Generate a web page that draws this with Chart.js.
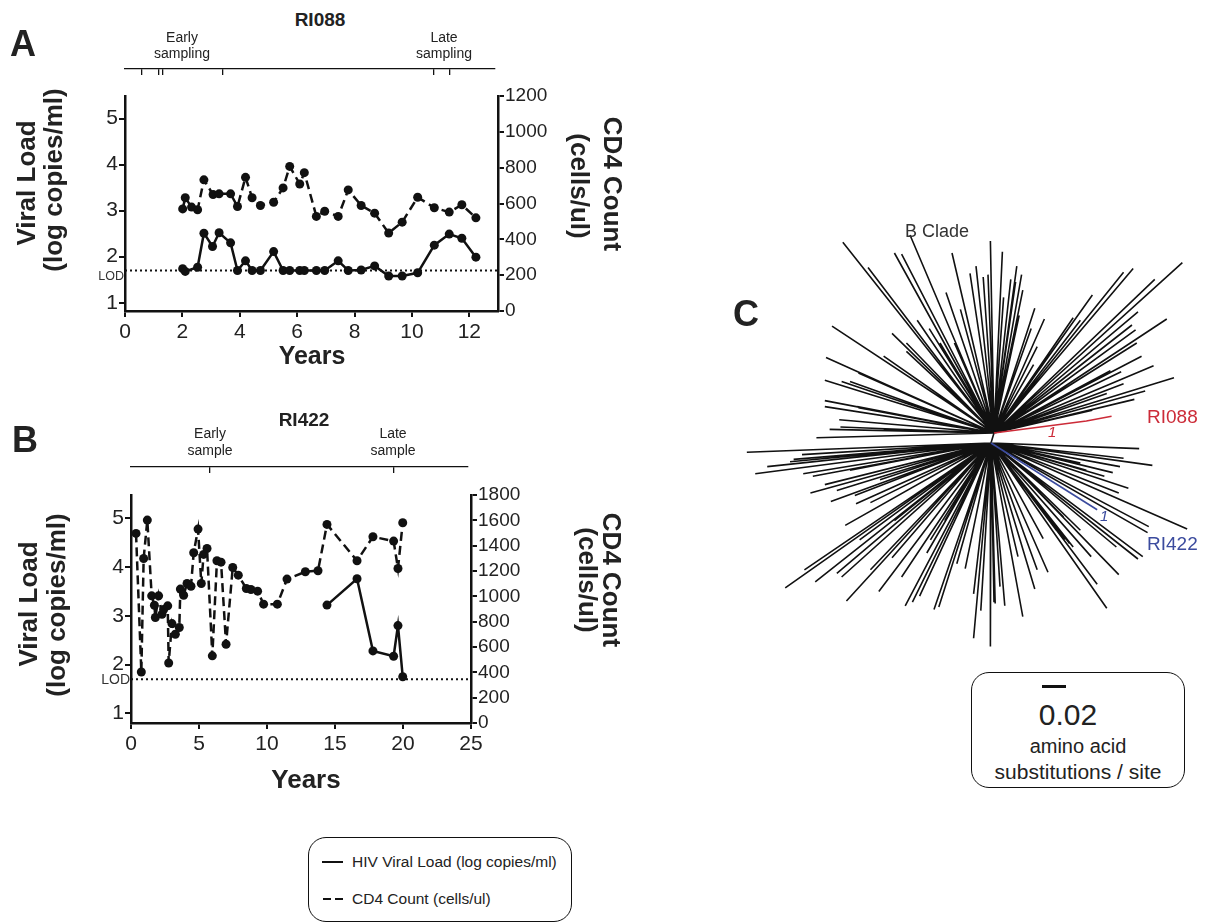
<!DOCTYPE html>
<html>
<head>
<meta charset="utf-8">
<title>RI088 / RI422 viral load, CD4 and tree</title>
<script src="https://cdn.jsdelivr.net/npm/chart.js@4.4.1/dist/chart.umd.min.js"></script>
<style>
  body { margin: 0; width: 1206px; height: 924px; background: #fff; position: relative; overflow: hidden;
         font-family: "Liberation Sans", Arial, sans-serif; color: #222; }
  canvas { position: absolute; }
  .t { position: absolute; line-height: 1; white-space: nowrap; }
  .box { position: absolute; border: 1.5px solid #111; border-radius: 18px; box-sizing: border-box; }
  .ln { position: absolute; height: 2px; background: #111; }
</style>
</head>
<body>
<canvas id="trackA" width="640" height="20" style="left:0;top:60px"></canvas>
<canvas id="chartA" width="640" height="300" style="left:0;top:80px"></canvas>
<canvas id="trackB" width="640" height="20" style="left:0;top:457px"></canvas>
<canvas id="chartB" width="640" height="330" style="left:0;top:480px"></canvas>
<canvas id="tree" width="460" height="450" style="left:740px;top:220px"></canvas>

<div class="box" style="left:308px;top:837px;width:264px;height:85px"></div>
<div class="ln" style="left:322px;top:861px;width:21px"></div>
<div class="ln" style="left:323px;top:898px;width:8px"></div>
<div class="ln" style="left:335px;top:898px;width:8px"></div>

<div class="box" style="left:971px;top:672px;width:214px;height:116px"></div>
<div id="scaleBar" style="position:absolute;left:1042px;top:685px;height:3px;background:#111"></div>

<script>
// ---------- RI088 (panel A) ----------
const cd4YearsA = [2.01, 2.10, 2.32, 2.53, 2.75, 3.07, 3.28, 3.68, 3.92, 4.20, 4.43, 4.72, 5.18, 5.51, 5.74,
                   6.09, 6.25, 6.67, 6.96, 7.43, 7.78, 8.23, 8.70, 9.19, 9.66, 10.20, 10.78, 11.30, 11.74, 12.23];
const cd4A = [570, 632, 580, 565, 732, 650, 654, 654, 583, 746, 632, 589, 607, 687, 807,
              709, 772, 528, 557, 528, 676, 589, 546, 435, 496, 635, 576, 552, 593, 520];
const vlYearsA = [2.01, 2.10, 2.53, 2.75, 3.05, 3.28, 3.68, 3.92, 4.20, 4.43, 4.72, 5.18, 5.51, 5.74, 6.09,
                  6.25, 6.67, 6.96, 7.43, 7.78, 8.23, 8.70, 9.19, 9.66, 10.20, 10.78, 11.30, 11.74, 12.23];
const vlA = [1.74, 1.68, 1.77, 2.51, 2.22, 2.52, 2.30, 1.70, 1.91, 1.70, 1.70, 2.11, 1.70, 1.70, 1.70,
             1.70, 1.70, 1.70, 1.91, 1.70, 1.71, 1.80, 1.58, 1.58, 1.65, 2.25, 2.49, 2.40, 1.99];
const samplingA = [0.58, 1.18, 1.33, 3.42, 10.76, 11.33];
const yearTicksA = [0, 2, 4, 6, 8, 10, 12];
const cd4TicksA = [0, 200, 400, 600, 800, 1000, 1200];

// ---------- RI422 (panel B) ----------
const cd4YearsB = [0.37, 0.76, 0.93, 1.20, 1.52, 1.72, 1.79, 2.03, 2.28, 2.40, 2.70, 2.77, 3.01, 3.26, 3.55,
                   3.63, 3.87, 4.12, 4.41, 4.61, 4.93, 5.17, 5.34, 5.59, 5.98, 6.32, 6.62, 6.99, 7.48, 7.89,
                   8.48, 8.82, 9.31, 9.75, 10.76, 11.47, 12.82, 13.75, 14.41, 16.62, 17.79, 19.31, 19.63, 19.98];
const cd4B = [1497, 403, 1299, 1602, 1004, 930, 833, 1004, 859, 896, 925, 474, 785, 701, 754,
              1057, 1009, 1101, 1080, 1344, 1531, 1101, 1331, 1378, 530, 1281, 1270, 622, 1228, 1167,
              1062, 1054, 1041, 938, 938, 1136, 1194, 1202, 1568, 1281, 1470, 1436, 1220, 1581];
const vlYearsB = [14.41, 16.62, 17.79, 19.31, 19.63, 19.98];
const vlB = [3.22, 3.76, 2.28, 2.17, 2.80, 1.75];
const samplingB = [5.8, 19.3];
const yearTicksB = [0, 5, 10, 15, 20, 25];
const cd4TicksB = [0, 200, 400, 600, 800, 1000, 1200, 1400, 1600, 1800];

const vlTicks = [1, 2, 3, 4, 5];
const LOD = 1.7;

// ---------- panel C tree (amino acid substitutions / site) ----------
// two internal nodes; tips hang off each
const nodeU = [0, 0];
const nodeL = [-0.0025, -0.0083];
const upperTipX = [-0.126, -0.105, -0.083, -0.077, -0.070, -0.035, -0.020, -0.015, -0.009, -0.005, -0.003, -0.040,
  -0.028, -0.064, -0.054, -0.085, -0.073, -0.135, -0.092, -0.140, -0.141, -0.113, -0.127, -0.120, -0.141, -0.141,
  -0.114, -0.129, -0.137, -0.148, -0.033, -0.045, -0.073, -0.113, -0.099, -0.128, -0.092,
  0.007, 0.019, 0.023, 0.014, 0.018, 0.008, 0.024, 0.021, 0.034, 0.042, 0.031, 0.036, 0.033,
  0.082, 0.108, 0.116, 0.134, 0.157, 0.066, 0.072, 0.120, 0.115, 0.118, 0.144, 0.119, 0.123, 0.133, 0.150,
  0.097, 0.106, 0.108, 0.126, 0.117, 0.094, 0.082];
const upperTipY = [0.159, 0.138, 0.150, 0.149, 0.165, 0.150, 0.133, 0.139, 0.130, 0.132, 0.160, 0.117,
  0.103, 0.094, 0.087, 0.083, 0.075, 0.089, 0.064, 0.063, 0.044, 0.050, 0.043, 0.043, 0.027, 0.022,
  0.022, 0.011, 0.003, -0.004, 0.075, 0.075, 0.068, 0.021, 0.019, 0.005, 0.003,
  0.151, 0.139, 0.132, 0.128, 0.126, 0.113, 0.119, 0.098, 0.104, 0.095, 0.087, 0.072, 0.057,
  0.115, 0.134, 0.137, 0.128, 0.142, 0.096, 0.094, 0.101, 0.090, 0.086, 0.095, 0.075, 0.064, 0.056, 0.046,
  0.052, 0.051, 0.041, 0.035, 0.028, 0.033, 0.019];
const lowerTipX = [0.121, 0.132, 0.108, 0.105, 0.092, 0.112, 0.104, 0.161, 0.129, 0.128, 0.124, 0.120, 0.102,
  0.104, 0.081, 0.086, 0.094, 0.045, 0.041, 0.034, 0.024, 0.009, 0.000, -0.003, 0.063, 0.077, 0.072, 0.099,
  0.058, 0.072, 0.052, 0.036, 0.020, 0.005, 0.066, 0.059,
  -0.206, -0.199, -0.189, -0.167, -0.160, -0.159, -0.151, -0.153, -0.141, -0.136, -0.131, -0.115, -0.116,
  -0.103, -0.124, -0.158, -0.174, -0.149, -0.131, -0.127, -0.123, -0.103, -0.096, -0.085, -0.077, -0.074,
  -0.068, -0.062, -0.050, -0.046, -0.056, -0.031, -0.024, -0.017, -0.017, -0.011, 0.001, -0.170, -0.120,
  -0.095, -0.083, -0.053, -0.041, -0.112];
const lowerTipY = [-0.013, -0.027, -0.021, -0.028, -0.036, -0.046, -0.050, -0.080, -0.078, -0.083, -0.103, -0.105, -0.095,
  -0.118, -0.103, -0.126, -0.146, -0.116, -0.088, -0.130, -0.153, -0.144, -0.141, -0.178, -0.092, -0.031, -0.025, -0.033,
  -0.070, -0.081, -0.081, -0.114, -0.103, -0.128, -0.095, -0.089,
  -0.016, -0.034, -0.028, -0.022, -0.018, -0.034, -0.036, -0.050, -0.043, -0.057, -0.048, -0.059, -0.052,
  -0.058, -0.077, -0.114, -0.129, -0.124, -0.117, -0.120, -0.140, -0.114, -0.132, -0.104, -0.120, -0.144,
  -0.141, -0.136, -0.147, -0.145, -0.100, -0.109, -0.113, -0.134, -0.171, -0.148, -0.142, -0.024, -0.031,
  -0.039, -0.073, -0.089, -0.073, -0.089];
const ri088X = [0.077, 0.098];
const ri088Y = [0.010, 0.014];
const ri422X = [0.086];
const ri422Y = [-0.064];
const scaleBarLength = 0.02;

// ---------- helpers ----------
const INK = '#111';
const FONT = '"Liberation Sans", Arial, sans-serif';
const RED = '#cc2b38';
const BLUE = '#3b4b9e';

function txt(s, x, base, size, o = {}) {
  const d = document.createElement('div');
  d.className = 't';
  d.textContent = s;
  d.style.fontSize = size + 'px';
  d.style.left = x + 'px';
  d.style.top = (base - 0.85 * size) + 'px';
  if (o.bold) d.style.fontWeight = 'bold';
  if (o.italic) d.style.fontStyle = 'italic';
  if (o.color) d.style.color = o.color;
  if (o.center) d.style.transform = 'translateX(-50%)';
  document.body.appendChild(d);
}

function vtxt(s, cx, cy, size, rot) {
  const d = document.createElement('div');
  d.className = 't';
  d.textContent = s;
  d.style.fontSize = size + 'px';
  d.style.fontWeight = 'bold';
  d.style.left = cx + 'px';
  d.style.top = cy + 'px';
  d.style.transform = 'translate(-50%,-50%) rotate(' + rot + 'deg)';
  document.body.appendChild(d);
}

function pts(xs, ys) {
  return xs.map((x, i) => ({ x: x, y: ys[i] }));
}

const lodLabel = {
  id: 'lodLabel',
  afterDraw(chart, args, opts) {
    const y = chart.scales.y.getPixelForValue(LOD);
    const ctx = chart.ctx;
    ctx.save();
    ctx.font = opts.size + 'px ' + FONT;
    ctx.fillStyle = '#333';
    ctx.textAlign = 'right';
    ctx.textBaseline = 'middle';
    ctx.fillText('LOD', chart.chartArea.left - 1, y + opts.dy);
    ctx.restore();
  }
};

function axisStyle(tickSize, pad) {
  return {
    grid: { display: true, drawOnChartArea: false, drawTicks: true, tickLength: 6, color: INK, lineWidth: 2 },
    border: { display: true, color: INK, width: 2.5 },
    ticks: { color: '#222', font: { family: FONT, size: tickSize }, padding: pad, autoSkip: false,
             maxRotation: 0, callback: v => v }
  };
}

function makePanel(id, p) {
  const xs = axisStyle(21, 3), ys = axisStyle(21, 1), y1s = axisStyle(19, 1);
  return new Chart(document.getElementById(id), {
    type: 'scatter',
    data: {
      datasets: [
        { data: pts(p.cd4Years, p.cd4), yAxisID: 'y1', showLine: true, borderColor: INK, backgroundColor: INK,
          borderWidth: 2.5, borderDash: [9, 5], pointRadius: 4.5, pointBorderWidth: 0 },
        { data: pts(p.vlYears, p.vl), yAxisID: 'y', showLine: true, borderColor: INK, backgroundColor: INK,
          borderWidth: 2.5, pointRadius: 4.5, pointBorderWidth: 0 },
        { data: [{ x: 0, y: LOD }, { x: p.xMax, y: LOD }], yAxisID: 'y', showLine: true, borderColor: INK,
          borderWidth: 2, borderDash: [2, 3], pointRadius: 0 }
      ]
    },
    options: {
      responsive: false,
      animation: false,
      layout: { padding: { top: p.padTop, left: 0, right: 0, bottom: 0 } },
      plugins: { legend: { display: false }, tooltip: { enabled: false }, lodLabel: p.lod },
      scales: {
        x: Object.assign(xs, {
          type: 'linear', position: 'bottom', min: 0, max: p.xMax,
          afterBuildTicks: s => { s.ticks = p.xTicks.map(v => ({ value: v })); },
          afterFit: s => { s.height = p.bottomH; }
        }),
        y: Object.assign(ys, {
          type: 'linear', position: 'left', min: p.yMin, max: p.yMax,
          afterBuildTicks: s => { s.ticks = vlTicks.map(v => ({ value: v })); },
          afterFit: s => { s.width = p.leftW; }
        }),
        y1: Object.assign(y1s, {
          type: 'linear', position: 'right', min: 0, max: p.y1Max,
          afterBuildTicks: s => { s.ticks = p.y1Ticks.map(v => ({ value: v })); },
          afterFit: s => { s.width = p.rightW; }
        })
      }
    },
    plugins: [lodLabel]
  });
}

function makeTrack(id, p) {
  return new Chart(document.getElementById(id), {
    type: 'scatter',
    data: { datasets: [] },
    options: {
      responsive: false,
      animation: false,
      layout: { padding: { left: p.left, right: p.right, top: 0, bottom: 0 } },
      plugins: { legend: { display: false }, tooltip: { enabled: false } },
      scales: {
        x: {
          type: 'linear', position: 'bottom', min: 0, max: p.xMax,
          afterBuildTicks: s => { s.ticks = p.ticks.map(v => ({ value: v })); },
          afterFit: s => { s.height = p.h; },
          ticks: { display: false },
          grid: { display: true, drawOnChartArea: false, drawTicks: true, tickLength: 6, color: INK, lineWidth: 1.3 },
          border: { display: true, color: INK, width: 1.3 }
        },
        y: { display: false, min: 0, max: 1 }
      }
    }
  });
}

// ---------- panel A ----------
makeTrack('trackA', { left: 125, right: 145, xMax: 12.9, ticks: samplingA, h: 11 });
makePanel('chartA', {
  cd4Years: cd4YearsA, cd4: cd4A, vlYears: vlYearsA, vl: vlA,
  xMax: 13, xTicks: yearTicksA, yMin: 0.82, yMax: 5.49, y1Max: 1200, y1Ticks: cd4TicksA,
  padTop: 16, leftW: 125, rightW: 142, bottomH: 69, lod: { size: 12.5, dy: 6 }
});

// ---------- panel B ----------
makeTrack('trackB', { left: 131, right: 172, xMax: 24.78, ticks: samplingB, h: 10 });
makePanel('chartB', {
  cd4Years: cd4YearsB, cd4: cd4B, vlYears: vlYearsB, vl: vlB,
  xMax: 25, xTicks: yearTicksB, yMin: 0.8, yMax: 5.48, y1Max: 1800, y1Ticks: cd4TicksB,
  padTop: 15, leftW: 131, rightW: 169, bottomH: 87, lod: { size: 14, dy: 1 }
});

// ---------- panel C ----------
function fan(node, xs, ys) {
  const out = [];
  xs.forEach((x, i) => {
    out.push({ x: node[0], y: node[1] }, { x: x, y: ys[i] }, { x: node[0], y: null });
  });
  return out;
}
const branchStyle = { showLine: true, pointRadius: 0, borderWidth: 1.6, spanGaps: false };
const treeChart = new Chart(document.getElementById('tree'), {
  type: 'scatter',
  data: {
    datasets: [
      Object.assign({ data: [{ x: nodeU[0], y: nodeU[1] }].concat(pts(ri088X, ri088Y)), borderColor: RED }, branchStyle),
      Object.assign({ data: [{ x: nodeL[0], y: nodeL[1] }].concat(pts(ri422X, ri422Y)), borderColor: BLUE }, branchStyle),
      Object.assign({ data: fan(nodeU, upperTipX, upperTipY), borderColor: INK }, branchStyle),
      Object.assign({ data: [{ x: nodeU[0], y: nodeU[1] }, { x: nodeL[0], y: nodeL[1] }, { x: 0, y: null }]
        .concat(fan(nodeL, lowerTipX, lowerTipY)), borderColor: INK }, branchStyle)
    ]
  },
  options: {
    responsive: false,
    animation: false,
    layout: { padding: 0 },
    plugins: { legend: { display: false }, tooltip: { enabled: false } },
    scales: {
      x: { type: 'linear', display: false, min: -0.2117, max: 0.1717 },
      y: { type: 'linear', display: false, min: -0.1975, max: 0.1775 }
    }
  }
});
const sx = treeChart.scales.x;
document.getElementById('scaleBar').style.width =
  (sx.getPixelForValue(scaleBarLength) - sx.getPixelForValue(0)) + 'px';

// ---------- text ----------
txt('A', 10, 57, 36, { bold: true });
txt('RI088', 320, 26, 19, { bold: true, center: true });
txt('Early', 182, 42, 14, { center: true });
txt('sampling', 182, 58, 14, { center: true });
txt('Late', 444, 42, 14, { center: true });
txt('sampling', 444, 58, 14, { center: true });
vtxt('Viral Load', 26, 183, 26, -90);
vtxt('(log copies/ml)', 53, 180, 26, -90);
vtxt('CD4 Count', 613, 184, 26, 90);
vtxt('(cells/ul)', 580, 186, 26, 90);
txt('Years', 312, 364, 25, { bold: true, center: true });

txt('B', 12, 453, 36, { bold: true });
txt('RI422', 304, 426, 19, { bold: true, center: true });
txt('Early', 210, 438, 14, { center: true });
txt('sample', 210, 455, 14, { center: true });
txt('Late', 393, 438, 14, { center: true });
txt('sample', 393, 455, 14, { center: true });
vtxt('Viral Load', 28, 604, 26, -90);
vtxt('(log copies/ml)', 56, 605, 26, -90);
vtxt('CD4 Count', 612, 580, 26, 90);
vtxt('(cells/ul)', 588, 580, 26, 90);
txt('Years', 306, 788, 26, { bold: true, center: true });

txt('C', 733, 327, 36, { bold: true });
txt('B Clade', 937, 237, 18, { center: true, color: '#333' });
txt('RI088', 1147, 423, 19, { color: RED });
txt('RI422', 1147, 550, 19, { color: BLUE });
txt('1', 1048, 437, 15, { italic: true, color: RED });
txt('1', 1100, 521, 15, { italic: true, color: BLUE });
txt('0.02', 1068, 725, 30, { center: true });
txt('amino acid', 1078, 753, 20, { center: true });
txt('substitutions / site', 1078, 779, 21, { center: true });

txt('HIV Viral Load (log copies/ml)', 352, 867, 15.5);
txt('CD4 Count (cells/ul)', 352, 904, 15.5);
</script>
</body>
</html>
